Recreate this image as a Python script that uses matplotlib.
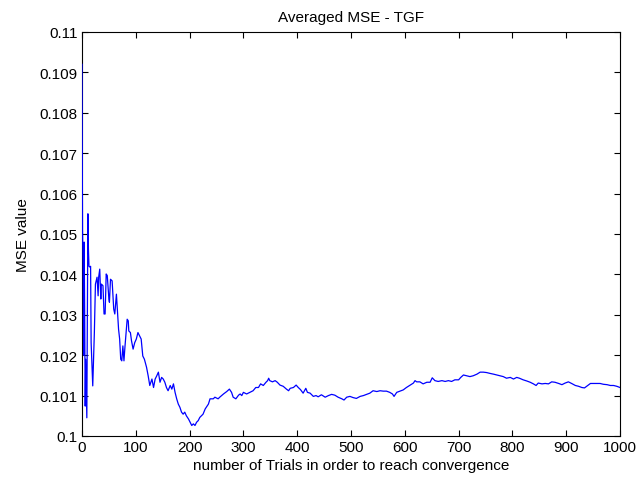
import matplotlib
matplotlib.use("Agg")
import matplotlib.pyplot as plt
from matplotlib.ticker import FormatStrFormatter, MultipleLocator

# values (trial number, averaged MSE)
trials = [0, 1, 2, 3, 4, 5, 6, 7, 8, 9, 10, 11, 12, 13, 15, 16, 17, 20, 23, 25,
          28, 30, 31, 33, 35, 36, 39, 41, 43, 45, 47, 50, 51, 53, 56, 59, 61, 64, 66, 68,
          70, 72, 74, 76, 78, 80, 84, 86, 87, 90, 92, 95, 98, 101, 104, 107, 110, 113, 116, 120,
          123, 126, 130, 133, 136, 139, 142, 145, 148, 151, 154, 157, 160, 164, 167, 170, 173, 176, 179, 182,
          185, 188, 191, 194, 198, 201, 204, 207, 210, 213, 216, 219, 222, 225, 229, 235, 238, 244, 247, 253,
          256, 263, 269, 274, 278, 281, 286, 291, 294, 297, 300, 306, 312, 318, 323, 328, 332, 337, 342, 345,
          347, 349, 354, 359, 363, 368, 374, 380, 384, 387, 393, 398, 402, 406, 411, 416, 419, 424, 430, 435,
          439, 445, 452, 458, 464, 470, 476, 483, 487, 492, 498, 504, 510, 517, 523, 529, 535, 541, 548, 554,
          560, 566, 572, 577, 580, 585, 591, 597, 603, 610, 616, 619, 622, 628, 634, 641, 647, 651, 656, 662,
          669, 675, 681, 687, 693, 700, 704, 709, 715, 721, 727, 734, 740, 746, 752, 758, 765, 771, 777, 783,
          789, 796, 802, 808, 813, 820, 827, 833, 839, 844, 848, 855, 861, 867, 873, 879, 886, 892, 898, 904,
          910, 917, 923, 929, 934, 938, 945, 951, 957, 963, 969, 976, 982, 988, 994, 1000]

mse_values = [0.1092, 0.1051, 0.1043, 0.1020, 0.1048, 0.1030, 0.10074, 0.1019, 0.1011, 0.10045,
              0.1030, 0.1055, 0.1046, 0.1042, 0.10418, 0.1042, 0.10231, 0.10124, 0.10256, 0.10376,
              0.10393, 0.10347, 0.10393, 0.10413, 0.10339, 0.10376, 0.10372, 0.10302, 0.10302, 0.10401,
              0.10397, 0.10339, 0.10331, 0.10388, 0.10384, 0.10314, 0.10302, 0.10351, 0.10306, 0.10264,
              0.10240, 0.10190, 0.10186, 0.10223, 0.10186, 0.10223, 0.10289, 0.10285, 0.10260, 0.10256,
              0.10236, 0.10215, 0.10231, 0.10240, 0.10256, 0.10248, 0.10240, 0.10198, 0.10190, 0.10170,
              0.10149, 0.10125, 0.10141, 0.10120, 0.10141, 0.10149, 0.10158, 0.10133, 0.10145, 0.10141,
              0.10133, 0.10120, 0.10112, 0.10125, 0.10116, 0.10129, 0.10108, 0.10092, 0.10079, 0.10071,
              0.10059, 0.10054, 0.10059, 0.10050, 0.10042, 0.10034, 0.10026, 0.10030, 0.10026, 0.10034,
              0.10038, 0.10046, 0.10050, 0.10054, 0.10067, 0.10079, 0.10092, 0.10092, 0.10096, 0.10092,
              0.10096, 0.10104, 0.10110, 0.10116, 0.10108, 0.10096, 0.10092, 0.10101, 0.10104, 0.10100,
              0.10108, 0.10104, 0.10108, 0.10112, 0.10120, 0.10120, 0.10129, 0.10125, 0.10133, 0.10137,
              0.10143, 0.10137, 0.10134, 0.10137, 0.10133, 0.10126, 0.10123, 0.10116, 0.10112, 0.10118,
              0.10120, 0.10126, 0.10120, 0.10115, 0.10106, 0.10118, 0.10108, 0.10106, 0.10098, 0.10100,
              0.10097, 0.10102, 0.10096, 0.10100, 0.10103, 0.10101, 0.10096, 0.10092, 0.10089, 0.10096,
              0.10098, 0.10095, 0.10093, 0.10098, 0.10100, 0.10103, 0.10106, 0.10112, 0.10110, 0.10112,
              0.10111, 0.10111, 0.10108, 0.10104, 0.10098, 0.10108, 0.10111, 0.10114, 0.10120, 0.10126,
              0.10131, 0.10137, 0.10134, 0.10134, 0.10129, 0.10133, 0.10133, 0.10144, 0.10137, 0.10135,
              0.10137, 0.10135, 0.10137, 0.10135, 0.10139, 0.10139, 0.10145, 0.10151, 0.10149, 0.10147,
              0.10149, 0.10153, 0.10158, 0.10158, 0.10157, 0.10155, 0.10153, 0.10151, 0.10149, 0.10147,
              0.10143, 0.10145, 0.10141, 0.10145, 0.10143, 0.10139, 0.10136, 0.10133, 0.10129, 0.10125,
              0.10131, 0.10129, 0.10130, 0.10129, 0.10134, 0.10133, 0.10130, 0.10127, 0.10131, 0.10134,
              0.10130, 0.10125, 0.10123, 0.10120, 0.10119, 0.10123, 0.10130, 0.10130, 0.10130, 0.10130,
              0.10128, 0.10127, 0.10125, 0.10125, 0.10123, 0.10120]

plt.rcParams['font.family'] = ['Liberation Sans', 'DejaVu Sans']
plt.rcParams['font.size'] = 11

fig = plt.figure(figsize=(6.39, 4.85), dpi=100)
ax = fig.add_axes([0.1283, 0.099, 0.842, 0.833])

# draw above the spines so the first drop along x=0 stays visible
ax.plot(trials, mse_values, color=(0, 0, 1), lw=0.9, zorder=3)

ax.set_xlim(0, 1000)
ax.set_ylim(0.1, 0.11)
ax.xaxis.set_major_locator(MultipleLocator(100))
ax.yaxis.set_major_locator(MultipleLocator(0.001))
ax.yaxis.set_major_formatter(FormatStrFormatter('%g'))
ax.tick_params(direction='in', top=True, right=True, length=4, width=0.8,
               labelsize=11, colors='black', pad=3)
for s in ax.spines.values():
    s.set_linewidth(0.8)

ax.set_title('Averaged MSE - TGF', fontsize=11, pad=8)
ax.set_xlabel('number of Trials in order to reach convergence', fontsize=11, labelpad=3)
ax.set_ylabel('MSE value', fontsize=11, labelpad=7)

fig.savefig('out.png', dpi=100)
